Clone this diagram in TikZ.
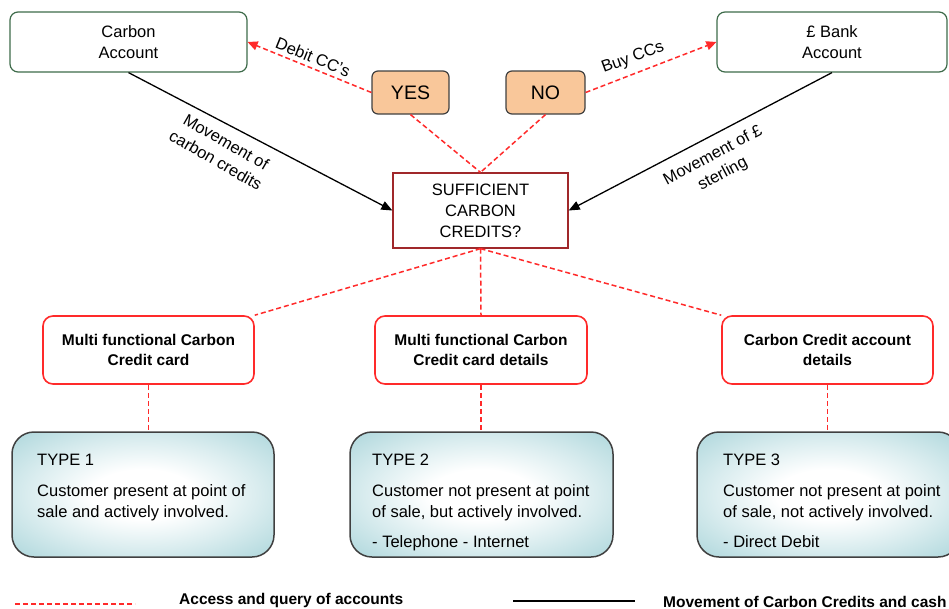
\documentclass[tikz,border=0pt]{standalone}
\usepackage{fontspec}
\setmainfont{Liberation Sans}
\usetikzlibrary{arrows.meta,calc}
\definecolor{acctgreen}{HTML}{3E6B4A}
\definecolor{suffred}{HTML}{A0282A}
\definecolor{linkred}{HTML}{FF2A2A}
\definecolor{yesfill}{HTML}{F9C79A}
\definecolor{tealc}{HTML}{ACD6DB}
\colorlet{tealmid}{white!55!tealc}
\definecolor{boxgray}{HTML}{404040}
\pgfdeclareradialshading{tealglow}{\pgfpointorigin}{color(0bp)=(white); color(10bp)=(white); color(22bp)=(tealmid); color(36bp)=(tealc); color(50bp)=(tealc)}
\newcommand\ftxt{\fontsize{16.5}{21}\selectfont}
\newcommand\fbold{\fontsize{15.5}{20}\selectfont\bfseries}
\begin{document}
\begin{tikzpicture}[x=1pt,y=-1pt,
  acct/.style={draw=acctgreen, line width=1.2pt, rounded corners=8pt, fill=white, align=center, font=\ftxt, inner sep=0pt},
  yn/.style={draw=boxgray, line width=1.2pt, rounded corners=6pt, fill=yesfill, font=\fontsize{19.5}{22}\selectfont, inner sep=0pt},
  suff/.style={draw=suffred, line width=1.3pt, fill=white, align=center, font=\ftxt, inner sep=0pt},
  cbox/.style={draw=linkred, line width=1.6pt, rounded corners=10pt, fill=white, align=center, font=\fbold, inner sep=0pt},
  tbox/.style={draw=boxgray, line width=1.5pt, rounded corners=22pt, shading=tealglow, inner sep=0pt},
  tline/.style={anchor=base west, font=\ftxt, inner sep=0pt},
  lbl/.style={align=center, font=\ftxt, inner sep=0pt},
  legtxt/.style={anchor=base west, font=\fbold, inner sep=0pt},
  reddash/.style={draw=linkred, line width=1.5pt, dash pattern=on 5pt off 3pt},
  redarrow/.style={reddash, -{Triangle[length=10pt,width=9pt]}, shorten >=0pt},
  blackarrow/.style={draw=black, line width=1.3pt, -{Triangle[length=11pt,width=9pt]}},
  blackline/.style={draw=black, line width=1.3pt}
]
\useasboundingbox (0,0) rectangle (949,608);

% top accounts
\node[acct, minimum width=237pt, minimum height=60pt] (ca) at (128.5,42) {Carbon\\Account};
\node[acct, minimum width=230pt, minimum height=60pt] (bank) at (832,42) {£ Bank\\Account};

% yes / no
\node[yn, minimum width=77pt, minimum height=43pt] (yes) at (410.5,92.5) {YES};
\node[yn, minimum width=79pt, minimum height=43pt] (no) at (545.5,92.5) {NO};

% decision
\node[suff, minimum width=175pt, minimum height=75pt] (suff) at (480.5,210.5) {SUFFICIENT\\CARBON\\CREDITS?};

% card boxes
\node[cbox, minimum width=211pt, minimum height=68pt] (b1) at (148.5,350) {Multi functional Carbon\\Credit card};
\node[cbox, minimum width=212pt, minimum height=68pt] (b2) at (481,350) {Multi functional Carbon\\Credit card details};
\node[cbox, minimum width=211pt, minimum height=68pt] (b3) at (827.5,350) {Carbon Credit account\\details};

% type boxes
\node[tbox, minimum width=262pt, minimum height=125pt] (t1) at (143,494.5) {};
\node[tbox, minimum width=263pt, minimum height=125pt] (t2) at (481.5,494.5) {};
\node[tbox, minimum width=263pt, minimum height=125pt] (t3) at (828.5,494.5) {};

\node[tline] (t1a) at (37,465) {TYPE 1};
\node[tline] (t1b) at (37,496) {Customer present at point of};
\node[tline] (t1c) at (37,517) {sale and actively involved.};

\node[tline] (t2a) at (372,465) {TYPE 2};
\node[tline] (t2b) at (372,496) {Customer not present at point};
\node[tline] (t2c) at (372,517) {of sale, but actively involved.};
\node[tline] (t2d) at (372,547) {- Telephone - Internet};

\node[tline] (t3a) at (723,465) {TYPE 3};
\node[tline] (t3b) at (723,496) {Customer not present at point};
\node[tline] (t3c) at (723,517) {of sale, not actively involved.};
\node[tline] (t3d) at (723,547) {- Direct Debit};

% connectors
\draw[blackarrow] (ca.south) -- (suff.west);
\draw[blackarrow] (bank.south) -- (suff.east);
\draw[redarrow] (yes.west) -- (ca.east);
\draw[redarrow] (no.east) -- (bank.west);
\draw[reddash] (yes.south) -- (suff.north);
\draw[reddash] (no.south) -- (suff.north);
\draw[reddash] (suff.south) -- (b1.north east);
\draw[reddash] (suff.south) -- (b2.north);
\draw[reddash] (suff.south) -- (b3.north west);
\draw[reddash] (b1.south) -- (b1.south |- t1.north);
\draw[reddash] (b2.south) -- (b2.south |- t2.north);
\draw[reddash] (b3.south) -- (b3.south |- t3.north);

% connector labels
\node[lbl, rotate=-22] (ldebit) at (313,57) {Debit CC's};
\node[lbl, rotate=20] (lbuy) at (633,58) {Buy CCs};
\node[lbl, rotate=-30] (lmc) at (221,151) {Movement of\\carbon credits};
\node[lbl, rotate=28] (lms) at (718,165) {Movement of £\\sterling};

% legend
\coordinate (la) at (15,604);
\coordinate (lb) at (135,604);
\draw[reddash] (la) -- (lb);
\node[legtxt] (lt1) at (179,604) {Access and query of accounts};
\coordinate (lc) at (513,601);
\coordinate (ld) at (635,601);
\draw[blackline] (lc) -- (ld);
\node[legtxt] (lt2) at (663,607) {Movement of Carbon Credits and cash};
\end{tikzpicture}
\end{document}
